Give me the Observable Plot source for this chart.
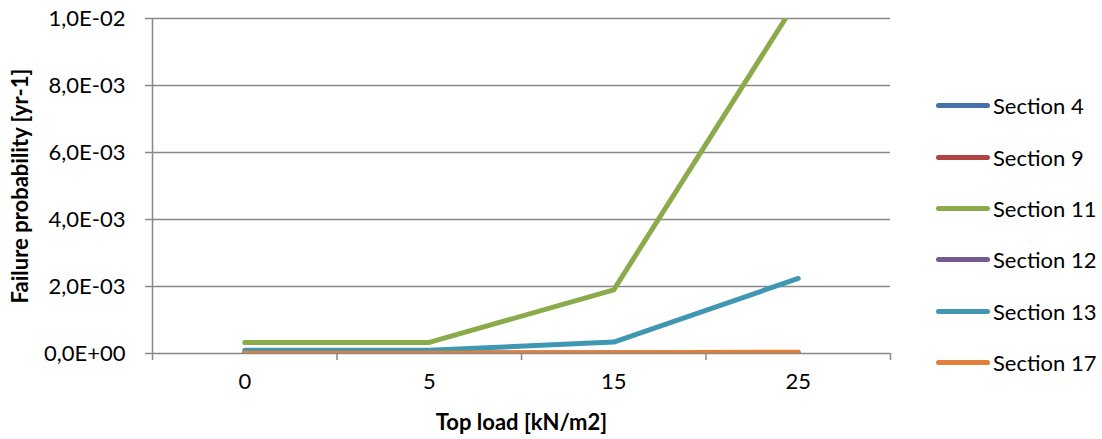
<!DOCTYPE html>
<html>
<head>
<meta charset="utf-8">
<script src="https://cdn.jsdelivr.net/npm/d3@7"></script>
<script src="https://cdn.jsdelivr.net/npm/@observablehq/plot@0.6"></script>
<style>
  html, body { margin: 0; padding: 0; background: #fff; }
  #wrap { position: relative; width: 1102px; height: 439px; font-family: Lato, "Open Sans", sans-serif; }
  #legend { position: absolute; left: 936px; top: 80px; }
  .item { display: flex; align-items: center; height: 51.4px; }
  .sw { width: 54px; height: 5px; border-radius: 3px; margin-right: 3px; }
  .lab { font-size: 22px; color: #000; white-space: nowrap; }
</style>
</head>
<body>
<div id="wrap"><div id="legend"></div></div>
<script>
const loads = ["0", "5", "15", "25"];
const seriesNames = ["Section 4", "Section 9", "Section 11", "Section 12", "Section 13", "Section 17"];
const section4  = [0.000005, 0.000005, 0.000008, 0.00001];
const section9  = [0.000003, 0.000003, 0.000005, 0.000008];
const section11 = [0.00033, 0.00033, 0.0019, 0.0106];
const section12 = [0.000004, 0.000004, 0.000006, 0.00001];
const section13 = [0.0001, 0.0001, 0.00034, 0.00224];
const section17 = [0.00001, 0.00001, 0.00002, 0.00004];
const colors = ["#4472A8", "#B0433F", "#8BAB4B", "#75598F", "#4097B2", "#E0803A"];
const yTicks = [0, 0.002, 0.004, 0.006, 0.008, 0.01];

const allValues = [section4, section9, section11, section12, section13, section17];
const data = [];
seriesNames.forEach((s, k) => {
  allValues[k].forEach((v, i) => data.push({series: s, idx: i, value: v}));
});

function fmt(v) {
  const [m, e] = v.toExponential(1).split("e");
  const sign = e[0];
  const digits = e.slice(1).padStart(2, "0");
  return m.replace(".", ",") + "E" + sign + digits;
}

const gridColor = "#888888";

const chart = Plot.plot({
  width: 1102,
  height: 439,
  marginLeft: 152,
  marginRight: 212,
  marginTop: 18,
  marginBottom: 86,
  style: {fontFamily: "Lato, 'Open Sans', sans-serif", fontSize: "22px", color: "#000", background: "#fff"},
  x: {domain: [-0.5, loads.length - 0.5]},
  y: {domain: [0, 0.01]},
  color: {domain: seriesNames, range: colors},
  marks: [
    Plot.gridY(yTicks, {stroke: gridColor, strokeOpacity: 1, strokeWidth: 1.5}),
    Plot.axisY({ticks: yTicks, tickFormat: fmt, tickSize: 7, tickPadding: 20, stroke: gridColor, strokeWidth: 1.5,
      label: "Failure probability [yr-1]", labelAnchor: "center", labelArrow: "none", labelOffset: 140}),
    Plot.ruleX([-0.5], {stroke: gridColor, strokeWidth: 1.5}),
    Plot.axisX({ticks: d3.range(loads.length + 1).map(i => i - 0.5), tickFormat: () => "", tickSize: 7, stroke: gridColor, strokeWidth: 1.5, label: null}),
    Plot.axisX({ticks: d3.range(loads.length), tickFormat: i => loads[i], tickSize: 0, tickPadding: 20,
      label: "Top load [kN/m2]", labelAnchor: "center", labelArrow: "none", labelOffset: 76}),
    Plot.lineY(data, {x: "idx", y: "value", z: "series", stroke: "series", strokeWidth: 5, clip: true, strokeLinejoin: "round", strokeLinecap: "round"})
  ]
});

d3.select(chart).selectAll("[aria-label='y-axis label'] text, [aria-label='x-axis label'] text")
  .style("font-weight", "bold").style("font-size", "22px");

document.getElementById("wrap").prepend(chart);

const legend = document.getElementById("legend");
seriesNames.forEach((s, k) => {
  const item = document.createElement("div");
  item.className = "item";
  const sw = document.createElement("div");
  sw.className = "sw";
  sw.style.background = colors[k];
  const lab = document.createElement("div");
  lab.className = "lab";
  lab.textContent = s;
  item.appendChild(sw);
  item.appendChild(lab);
  legend.appendChild(item);
});
</script>
</body>
</html>
